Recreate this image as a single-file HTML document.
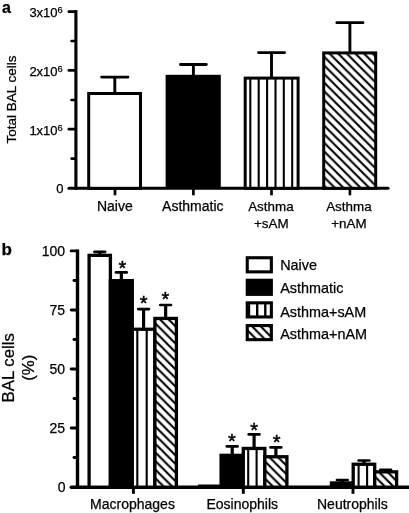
<!DOCTYPE html>
<html><head><meta charset="utf-8"><title>Figure</title>
<style>html,body{margin:0;padding:0;background:#fff}svg{display:block}text{font-family:"Liberation Sans",sans-serif;fill:#000;stroke:#000;stroke-width:0.25px}</style>
</head><body>
<svg width="409" height="513" viewBox="0 0 409 513">
<rect width="409" height="513" fill="#fff"/>
<defs>
<pattern id="dg1" patternUnits="userSpaceOnUse" x="330.40" y="54.40" width="8.6" height="8.6"><path d="M-8.6 -8.6L17.2 17.2M0 -8.6L25.799999999999997 17.2M-17.2 -8.6L8.6 17.2" stroke="#000" stroke-width="2.1" fill="none"/></pattern>
<pattern id="dg2" patternUnits="userSpaceOnUse" x="160.65" y="320.10" width="8.6" height="8.6"><path d="M-8.6 -8.6L17.2 17.2M0 -8.6L25.799999999999997 17.2M-17.2 -8.6L8.6 17.2" stroke="#000" stroke-width="2.1" fill="none"/></pattern>
<pattern id="dg3" patternUnits="userSpaceOnUse" x="270.60" y="458.40" width="8.6" height="8.6"><path d="M-8.6 -8.6L17.2 17.2M0 -8.6L25.799999999999997 17.2M-17.2 -8.6L8.6 17.2" stroke="#000" stroke-width="2.1" fill="none"/></pattern>
<pattern id="dg4" patternUnits="userSpaceOnUse" x="380.45" y="473.50" width="8.6" height="8.6"><path d="M-8.6 -8.6L17.2 17.2M0 -8.6L25.799999999999997 17.2M-17.2 -8.6L8.6 17.2" stroke="#000" stroke-width="2.1" fill="none"/></pattern>
<pattern id="dg5" patternUnits="userSpaceOnUse" x="252.80" y="327.10" width="8.6" height="8.6"><path d="M-8.6 -8.6L17.2 17.2M0 -8.6L25.799999999999997 17.2M-17.2 -8.6L8.6 17.2" stroke="#000" stroke-width="2.1" fill="none"/></pattern>
</defs>
<text x="2" y="12.5" font-size="16" font-weight="bold">a</text>
<line x1="75.90" y1="10.10" x2="75.90" y2="189.80" stroke="#000" stroke-width="3.1" stroke-linecap="butt"/>
<line x1="68.90" y1="11.60" x2="74.90" y2="11.60" stroke="#000" stroke-width="2.7" stroke-linecap="round"/>
<text x="57.6" y="17.1" font-size="13" text-anchor="end">3x10</text>
<text x="57.6" y="13.1" font-size="9.3">6</text>
<line x1="68.90" y1="70.40" x2="74.90" y2="70.40" stroke="#000" stroke-width="2.7" stroke-linecap="round"/>
<text x="57.6" y="75.9" font-size="13" text-anchor="end">2x10</text>
<text x="57.6" y="71.9" font-size="9.3">6</text>
<line x1="68.90" y1="129.20" x2="74.90" y2="129.20" stroke="#000" stroke-width="2.7" stroke-linecap="round"/>
<text x="57.6" y="134.7" font-size="13" text-anchor="end">1x10</text>
<text x="57.6" y="130.7" font-size="9.3">6</text>
<line x1="71.60" y1="41.00" x2="74.90" y2="41.00" stroke="#000" stroke-width="2.7" stroke-linecap="round"/>
<line x1="71.60" y1="100.00" x2="74.90" y2="100.00" stroke="#000" stroke-width="2.7" stroke-linecap="round"/>
<line x1="71.60" y1="158.60" x2="74.90" y2="158.60" stroke="#000" stroke-width="2.7" stroke-linecap="round"/>
<text x="63.5" y="193.3" font-size="13" text-anchor="end">0</text>
<line x1="68.90" y1="188.30" x2="388.00" y2="188.30" stroke="#000" stroke-width="3.0" stroke-linecap="round"/>
<text transform="translate(15.9 99.6) rotate(-90)" font-size="13.5" text-anchor="middle">Total BAL cells</text>
<rect x="88.70" y="93.50" width="51.80" height="94.80" fill="#fff"/>
<rect x="88.70" y="93.50" width="51.80" height="94.80" fill="none" stroke="#000" stroke-width="3.0"/>
<line x1="114.80" y1="92.00" x2="114.80" y2="77.10" stroke="#000" stroke-width="2.9" stroke-linecap="butt"/>
<line x1="101.60" y1="77.10" x2="128.00" y2="77.10" stroke="#000" stroke-width="2.8" stroke-linecap="round"/>
<rect x="165.60" y="74.80" width="55.20" height="113.50" fill="#000"/>
<line x1="193.40" y1="76.00" x2="193.40" y2="64.50" stroke="#000" stroke-width="2.9" stroke-linecap="butt"/>
<line x1="180.50" y1="64.50" x2="206.30" y2="64.50" stroke="#000" stroke-width="2.8" stroke-linecap="round"/>
<rect x="245.20" y="78.10" width="52.90" height="110.20" fill="#fff"/>
<line x1="250.30" y1="78.10" x2="250.30" y2="188.30" stroke="#000" stroke-width="2.1" stroke-linecap="butt"/>
<line x1="258.70" y1="78.10" x2="258.70" y2="188.30" stroke="#000" stroke-width="2.1" stroke-linecap="butt"/>
<line x1="267.10" y1="78.10" x2="267.10" y2="188.30" stroke="#000" stroke-width="2.1" stroke-linecap="butt"/>
<line x1="275.50" y1="78.10" x2="275.50" y2="188.30" stroke="#000" stroke-width="2.1" stroke-linecap="butt"/>
<line x1="283.80" y1="78.10" x2="283.80" y2="188.30" stroke="#000" stroke-width="2.1" stroke-linecap="butt"/>
<line x1="292.20" y1="78.10" x2="292.20" y2="188.30" stroke="#000" stroke-width="2.1" stroke-linecap="butt"/>
<rect x="245.20" y="78.10" width="52.90" height="110.20" fill="none" stroke="#000" stroke-width="3.0"/>
<line x1="271.50" y1="77.00" x2="271.50" y2="52.60" stroke="#000" stroke-width="2.9" stroke-linecap="butt"/>
<line x1="258.40" y1="52.60" x2="284.60" y2="52.60" stroke="#000" stroke-width="2.8" stroke-linecap="round"/>
<rect x="323.70" y="52.90" width="52.00" height="135.40" fill="#fff"/>
<rect x="323.70" y="52.90" width="52.00" height="135.40" fill="url(#dg1)"/>
<rect x="323.70" y="52.90" width="52.00" height="135.40" fill="none" stroke="#000" stroke-width="3.0"/>
<line x1="349.90" y1="52.00" x2="349.90" y2="22.70" stroke="#000" stroke-width="2.9" stroke-linecap="butt"/>
<line x1="336.80" y1="22.70" x2="363.00" y2="22.70" stroke="#000" stroke-width="2.8" stroke-linecap="round"/>
<line x1="115.00" y1="188.30" x2="115.00" y2="195.30" stroke="#000" stroke-width="2.7" stroke-linecap="butt"/>
<line x1="193.40" y1="188.30" x2="193.40" y2="195.30" stroke="#000" stroke-width="2.7" stroke-linecap="butt"/>
<line x1="271.50" y1="188.30" x2="271.50" y2="195.30" stroke="#000" stroke-width="2.7" stroke-linecap="butt"/>
<line x1="349.90" y1="188.30" x2="349.90" y2="195.30" stroke="#000" stroke-width="2.7" stroke-linecap="butt"/>
<text x="114.8" y="210.5" font-size="14" text-anchor="middle">Naive</text>
<text x="192.8" y="210.5" font-size="14" text-anchor="middle">Asthmatic</text>
<text x="270.9" y="211.3" font-size="13.4" text-anchor="middle">Asthma</text>
<text x="271.3" y="227.7" font-size="13.4" text-anchor="middle">+sAM</text>
<text x="348.9" y="211.3" font-size="13.4" text-anchor="middle">Asthma</text>
<text x="348.9" y="227.7" font-size="13.4" text-anchor="middle">+nAM</text>
<text x="1.5" y="254.8" font-size="17" font-weight="bold">b</text>
<line x1="77.50" y1="249.40" x2="77.50" y2="488.85" stroke="#000" stroke-width="3.4" stroke-linecap="butt"/>
<line x1="71.20" y1="250.90" x2="76.50" y2="250.90" stroke="#000" stroke-width="2.9" stroke-linecap="round"/>
<text x="65" y="255.6" font-size="14" text-anchor="end">100</text>
<line x1="71.20" y1="310.00" x2="76.50" y2="310.00" stroke="#000" stroke-width="2.9" stroke-linecap="round"/>
<text x="65" y="314.7" font-size="14" text-anchor="end">75</text>
<line x1="71.20" y1="369.00" x2="76.50" y2="369.00" stroke="#000" stroke-width="2.9" stroke-linecap="round"/>
<text x="65" y="373.7" font-size="14" text-anchor="end">50</text>
<line x1="71.20" y1="428.00" x2="76.50" y2="428.00" stroke="#000" stroke-width="2.9" stroke-linecap="round"/>
<text x="65" y="432.7" font-size="14" text-anchor="end">25</text>
<line x1="74.00" y1="280.50" x2="76.50" y2="280.50" stroke="#000" stroke-width="2.9" stroke-linecap="round"/>
<line x1="74.00" y1="339.50" x2="76.50" y2="339.50" stroke="#000" stroke-width="2.9" stroke-linecap="round"/>
<line x1="74.00" y1="398.50" x2="76.50" y2="398.50" stroke="#000" stroke-width="2.9" stroke-linecap="round"/>
<line x1="74.00" y1="457.50" x2="76.50" y2="457.50" stroke="#000" stroke-width="2.9" stroke-linecap="round"/>
<text x="65.6" y="492.0" font-size="14" text-anchor="end">0</text>
<line x1="71.20" y1="487.20" x2="409.00" y2="487.20" stroke="#000" stroke-width="3.4" stroke-linecap="round"/>
<text transform="translate(13.6 367.8) rotate(-90)" font-size="16.8" text-anchor="middle">BAL cells</text>
<text transform="translate(33.6 367.8) rotate(-90)" font-size="16.8" text-anchor="middle">(%)</text>
<rect x="89.10" y="255.35" width="21.30" height="231.85" fill="#fff"/>
<rect x="89.10" y="255.35" width="21.30" height="231.85" fill="none" stroke="#000" stroke-width="3.3"/>
<rect x="108.75" y="279.00" width="25.20" height="208.20" fill="#000"/>
<rect x="132.30" y="329.25" width="22.60" height="157.95" fill="#fff"/>
<line x1="137.30" y1="329.25" x2="137.30" y2="487.20" stroke="#000" stroke-width="2.1" stroke-linecap="butt"/>
<line x1="146.70" y1="329.25" x2="146.70" y2="487.20" stroke="#000" stroke-width="2.1" stroke-linecap="butt"/>
<rect x="132.30" y="329.25" width="22.60" height="157.95" fill="none" stroke="#000" stroke-width="3.3"/>
<rect x="154.90" y="318.45" width="21.50" height="168.75" fill="#fff"/>
<rect x="154.90" y="318.45" width="21.50" height="168.75" fill="url(#dg2)"/>
<rect x="154.90" y="318.45" width="21.50" height="168.75" fill="none" stroke="#000" stroke-width="3.3"/>
<line x1="99.75" y1="254.70" x2="99.75" y2="251.80" stroke="#000" stroke-width="3.2" stroke-linecap="butt"/>
<line x1="94.40" y1="251.80" x2="105.10" y2="251.80" stroke="#000" stroke-width="2.7" stroke-linecap="round"/>
<line x1="121.35" y1="280.00" x2="121.35" y2="272.40" stroke="#000" stroke-width="3.2" stroke-linecap="butt"/>
<line x1="116.00" y1="272.40" x2="126.70" y2="272.40" stroke="#000" stroke-width="2.7" stroke-linecap="round"/>
<line x1="143.60" y1="328.60" x2="143.60" y2="309.10" stroke="#000" stroke-width="3.2" stroke-linecap="butt"/>
<line x1="138.25" y1="309.10" x2="148.95" y2="309.10" stroke="#000" stroke-width="2.7" stroke-linecap="round"/>
<line x1="165.65" y1="317.80" x2="165.65" y2="305.00" stroke="#000" stroke-width="3.2" stroke-linecap="butt"/>
<line x1="160.30" y1="305.00" x2="171.00" y2="305.00" stroke="#000" stroke-width="2.7" stroke-linecap="round"/>
<text x="122.50" y="274.90" font-size="20" text-anchor="middle" style="stroke-width:0.45px">*</text>
<text x="143.60" y="310.30" font-size="20" text-anchor="middle" style="stroke-width:0.45px">*</text>
<text x="165.40" y="305.50" font-size="20" text-anchor="middle" style="stroke-width:0.45px">*</text>
<line x1="198.00" y1="485.20" x2="220.00" y2="485.20" stroke="#000" stroke-width="1.4" stroke-linecap="butt"/>
<rect x="219.45" y="453.70" width="25.50" height="33.50" fill="#000"/>
<rect x="243.30" y="448.45" width="21.55" height="38.75" fill="#fff"/>
<line x1="248.20" y1="448.45" x2="248.20" y2="487.20" stroke="#000" stroke-width="2.1" stroke-linecap="butt"/>
<line x1="256.60" y1="448.45" x2="256.60" y2="487.20" stroke="#000" stroke-width="2.1" stroke-linecap="butt"/>
<rect x="243.30" y="448.45" width="21.55" height="38.75" fill="none" stroke="#000" stroke-width="3.3"/>
<rect x="264.85" y="456.75" width="22.05" height="30.45" fill="#fff"/>
<rect x="264.85" y="456.75" width="22.05" height="30.45" fill="url(#dg3)"/>
<rect x="264.85" y="456.75" width="22.05" height="30.45" fill="none" stroke="#000" stroke-width="3.3"/>
<line x1="232.20" y1="454.70" x2="232.20" y2="446.40" stroke="#000" stroke-width="3.2" stroke-linecap="butt"/>
<line x1="226.85" y1="446.40" x2="237.55" y2="446.40" stroke="#000" stroke-width="2.7" stroke-linecap="round"/>
<line x1="254.08" y1="447.80" x2="254.08" y2="434.40" stroke="#000" stroke-width="3.2" stroke-linecap="butt"/>
<line x1="248.73" y1="434.40" x2="259.43" y2="434.40" stroke="#000" stroke-width="2.7" stroke-linecap="round"/>
<line x1="275.88" y1="456.10" x2="275.88" y2="447.40" stroke="#000" stroke-width="3.2" stroke-linecap="butt"/>
<line x1="270.53" y1="447.40" x2="281.22" y2="447.40" stroke="#000" stroke-width="2.7" stroke-linecap="round"/>
<text x="232.00" y="447.90" font-size="20" text-anchor="middle" style="stroke-width:0.45px">*</text>
<text x="254.20" y="436.90" font-size="20" text-anchor="middle" style="stroke-width:0.45px">*</text>
<text x="276.60" y="448.80" font-size="20" text-anchor="middle" style="stroke-width:0.45px">*</text>
<rect x="329.80" y="481.30" width="25.05" height="5.90" fill="#000"/>
<rect x="353.20" y="464.25" width="21.50" height="22.95" fill="#fff"/>
<line x1="358.60" y1="464.25" x2="358.60" y2="487.20" stroke="#000" stroke-width="2.1" stroke-linecap="butt"/>
<line x1="367.10" y1="464.25" x2="367.10" y2="487.20" stroke="#000" stroke-width="2.1" stroke-linecap="butt"/>
<rect x="353.20" y="464.25" width="21.50" height="22.95" fill="none" stroke="#000" stroke-width="3.3"/>
<rect x="374.70" y="471.85" width="21.90" height="15.35" fill="#fff"/>
<rect x="374.70" y="471.85" width="21.90" height="15.35" fill="url(#dg4)"/>
<rect x="374.70" y="471.85" width="21.90" height="15.35" fill="none" stroke="#000" stroke-width="3.3"/>
<line x1="342.32" y1="482.30" x2="342.32" y2="480.00" stroke="#000" stroke-width="3.2" stroke-linecap="butt"/>
<line x1="336.98" y1="480.00" x2="347.67" y2="480.00" stroke="#000" stroke-width="2.7" stroke-linecap="round"/>
<line x1="363.95" y1="463.60" x2="363.95" y2="460.50" stroke="#000" stroke-width="3.2" stroke-linecap="butt"/>
<line x1="358.60" y1="460.50" x2="369.30" y2="460.50" stroke="#000" stroke-width="2.7" stroke-linecap="round"/>
<line x1="385.65" y1="471.20" x2="385.65" y2="469.90" stroke="#000" stroke-width="3.2" stroke-linecap="butt"/>
<line x1="380.30" y1="469.90" x2="391.00" y2="469.90" stroke="#000" stroke-width="2.7" stroke-linecap="round"/>
<line x1="133.40" y1="487.20" x2="133.40" y2="493.80" stroke="#000" stroke-width="2.9" stroke-linecap="butt"/>
<line x1="243.30" y1="487.20" x2="243.30" y2="493.80" stroke="#000" stroke-width="2.9" stroke-linecap="butt"/>
<line x1="353.00" y1="487.20" x2="353.00" y2="493.80" stroke="#000" stroke-width="2.9" stroke-linecap="butt"/>
<text x="132.5" y="508.6" font-size="14" text-anchor="middle">Macrophages</text>
<text x="242.3" y="508.6" font-size="14" text-anchor="middle">Eosinophils</text>
<text x="352.4" y="508.6" font-size="14" text-anchor="middle">Neutrophils</text>
<rect x="247.25" y="257.75" width="24.10" height="14.10" fill="#fff"/>
<rect x="247.25" y="257.75" width="24.10" height="14.10" fill="none" stroke="#000" stroke-width="3.1"/>
<rect x="245.70" y="278.70" width="27.20" height="17.20" fill="#000"/>
<rect x="247.25" y="302.85" width="24.10" height="14.10" fill="#fff"/>
<line x1="249.00" y1="302.85" x2="249.00" y2="316.95" stroke="#000" stroke-width="2.4" stroke-linecap="butt"/>
<line x1="257.20" y1="302.85" x2="257.20" y2="316.95" stroke="#000" stroke-width="2.4" stroke-linecap="butt"/>
<line x1="265.30" y1="302.85" x2="265.30" y2="316.95" stroke="#000" stroke-width="2.4" stroke-linecap="butt"/>
<rect x="247.25" y="302.85" width="24.10" height="14.10" fill="none" stroke="#000" stroke-width="3.1"/>
<rect x="247.25" y="325.55" width="24.10" height="14.10" fill="#fff"/>
<rect x="247.25" y="325.55" width="24.10" height="14.10" fill="url(#dg5)"/>
<rect x="247.25" y="325.55" width="24.10" height="14.10" fill="none" stroke="#000" stroke-width="3.1"/>
<text x="280.2" y="269.9" font-size="14.4">Naive</text>
<text x="280.2" y="293" font-size="14.4">Asthmatic</text>
<text x="280.2" y="316.8" font-size="14.4">Asthma+sAM</text>
<text x="280.2" y="338.8" font-size="14.4">Asthma+nAM</text>
</svg></body></html>
